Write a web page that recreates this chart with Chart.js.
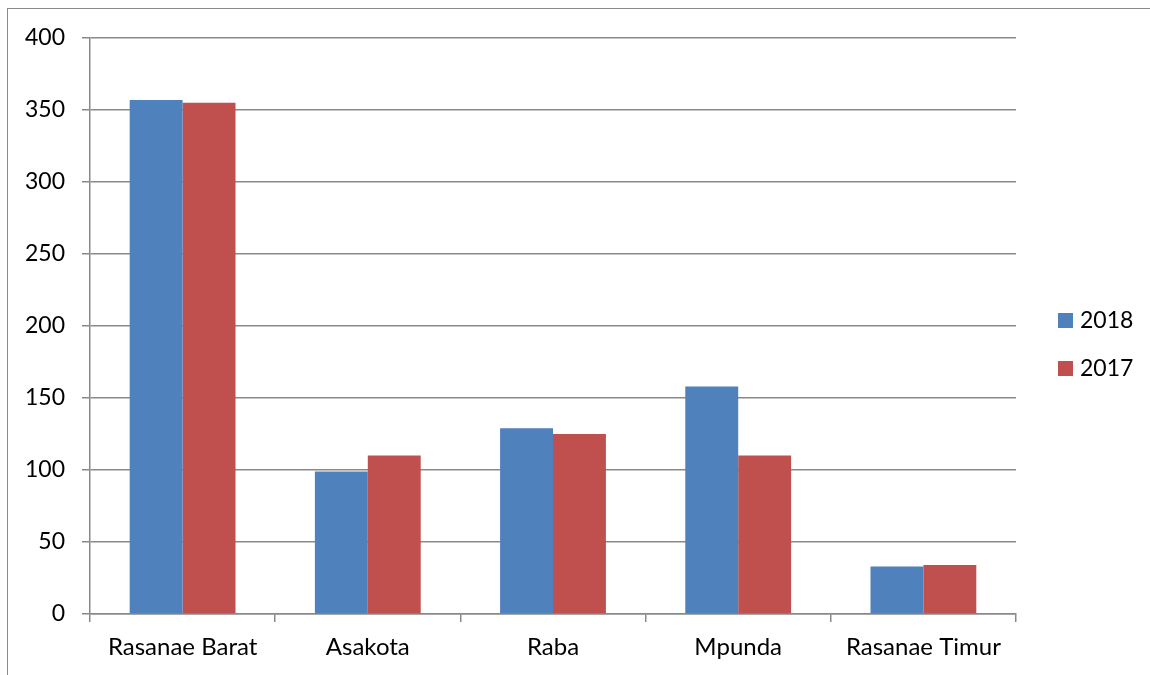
<!DOCTYPE html>
<html>
<head>
<meta charset="utf-8">
<script src="https://cdn.jsdelivr.net/npm/chart.js@4.4.0/dist/chart.umd.min.js"></script>
<style>
  body { margin: 0; background: #fff; overflow: hidden; }
  #wrap { position: relative; width: 1150px; height: 675px; overflow: hidden; }
  #frame { position: absolute; left: 7px; top: 8px; width: 1300px; height: 800px;
           border-left: 1.5px solid #8a8a8a; border-top: 1.5px solid #8a8a8a; }
  #myChart { position: absolute; left: 0; top: 0; }
  .item { position: absolute; left: 1058px; font: 23px Lato, sans-serif; color: #000; }
  .item span.box { position: absolute; left: 0; top: 0; width: 15px; height: 15px; }
  .item span.txt { position: absolute; left: 22px; top: -8px; white-space: nowrap; }
</style>
</head>
<body>
<div id="wrap">
  <div id="frame"></div>
  <canvas id="myChart" width="1150" height="675"></canvas>
  <div id="legend"></div>
</div>
<script>
const categories = ['Rasanae Barat', 'Asakota', 'Raba', 'Mpunda', 'Rasanae Timur'];
const values2018 = [357, 99, 129, 158, 33];
const values2017 = [355, 110, 125, 110, 34];

const gridColor = '#898989';

const ctx = document.getElementById('myChart').getContext('2d');

const myChart = new Chart(ctx, {
  type: 'bar',
  data: {
    labels: categories,
    datasets: [
      {
        label: '2018',
        data: values2018,
        backgroundColor: '#4F81BD',
        categoryPercentage: 0.5714,
        barPercentage: 1,
      },
      {
        label: '2017',
        data: values2017,
        backgroundColor: '#C0504D',
        categoryPercentage: 0.5714,
        barPercentage: 1,
      },
    ],
  },
  options: {
    responsive: false,
    animation: false,
    layout: { padding: { left: 0, right: 134, top: 38, bottom: 0 } },
    plugins: {
      legend: { display: false },
      tooltip: { enabled: false },
    },
    scales: {
      x: {
        grid: { offset: true, drawOnChartArea: false, color: gridColor, lineWidth: 1.5, tickLength: 8 },
        border: { color: gridColor, width: 1.5 },
        ticks: { color: '#000', font: { family: 'Lato', size: 24 }, padding: 11, maxRotation: 0 },
        afterFit: (s) => { s.height = 61; },
      },
      y: {
        min: 0,
        max: 400,
        ticks: { stepSize: 50, color: '#000', font: { family: 'Lato', size: 23 }, padding: 17 },
        grid: { color: gridColor, lineWidth: 1.5, tickLength: 8 },
        border: { color: gridColor, width: 1.5 },
        afterFit: (s) => { s.width = 90; },
      },
    },
  },
});

// legend built from the datasets
const legendTops = [313, 361];
const legend = document.getElementById('legend');
myChart.data.datasets.forEach((ds, i) => {
  const item = document.createElement('div');
  item.className = 'item';
  item.style.top = legendTops[i] + 'px';
  item.innerHTML = '<span class="box" style="background:' + ds.backgroundColor + '"></span><span class="txt">' + ds.label + '</span>';
  legend.appendChild(item);
});
</script>
</body>
</html>
